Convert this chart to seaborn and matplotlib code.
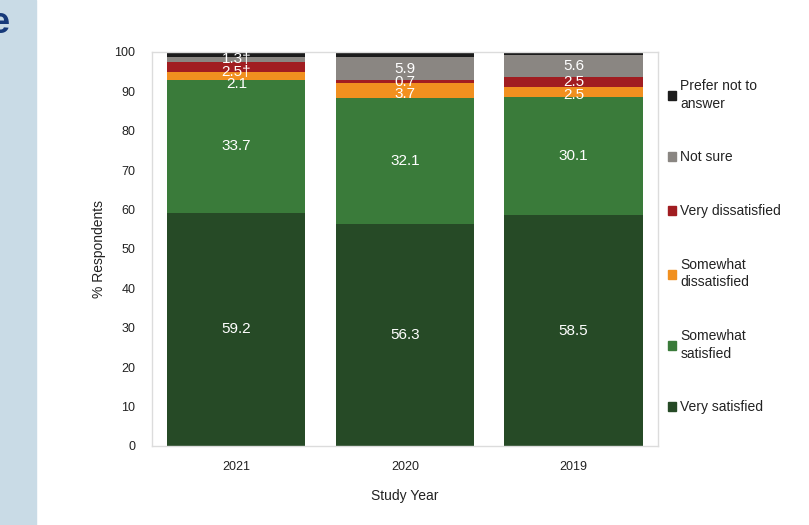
import numpy as np
import pandas as pd
import matplotlib.pyplot as plt
import matplotlib.patches as mpatches
import seaborn as sns

# Data
years = ["2021", "2020", "2019"]
categories = ["Very satisfied", "Somewhat satisfied", "Somewhat dissatisfied",
              "Very dissatisfied", "Not sure", "Prefer not to answer"]
legend_labels = ["Very satisfied", "Somewhat\nsatisfied", "Somewhat\ndissatisfied",
                 "Very dissatisfied", "Not sure", "Prefer not to\nanswer"]
very_satisfied = [59.2, 56.3, 58.5]
somewhat_satisfied = [33.7, 32.1, 30.1]
somewhat_dissatisfied = [2.1, 3.7, 2.5]
very_dissatisfied = [2.5, 0.7, 2.5]
not_sure = [1.3, 5.9, 5.6]
prefer_not = [1.2, 1.3, 0.8]
# label text shown on each segment (None = no label)
seg_labels = [
    ["59.2", "56.3", "58.5"],
    ["33.7", "32.1", "30.1"],
    ["2.1", "3.7", "2.5"],
    ["2.5\u2020", "0.7", "2.5"],
    ["1.3\u2020", "5.9", "5.6"],
    [None, None, None],
]
colors = ["#264a26", "#3a7b3a", "#f1901f", "#a11d21", "#8a8682", "#1c1c1c"]

values = np.array([very_satisfied, somewhat_satisfied, somewhat_dissatisfied,
                   very_dissatisfied, not_sure, prefer_not])
cum = np.cumsum(values, axis=0)
df = pd.DataFrame({"year": years})
for i, c in enumerate(categories):
    df[c] = cum[i]

sns.set_style("white")
plt.rcParams["font.family"] = ["Liberation Sans", "DejaVu Sans"]

fig = plt.figure(figsize=(8.09, 5.25), dpi=100)
ax = fig.add_axes([0.188, 0.1505, 0.625, 0.7505])

# draw cumulative bars from the top layer down so they stack visually
for i in reversed(range(len(categories))):
    sns.barplot(data=df, x="year", y=categories[i], color=colors[i],
                width=0.82, saturation=1, ax=ax, linewidth=0)

# segment labels, nudged downward when small segments would collide
gap = 3.2
for j in range(len(years)):
    prev = None
    for i in reversed(range(len(categories))):
        lab = seg_labels[i][j]
        if lab is None:
            continue
        pos = cum[i][j] - values[i][j] / 2
        if prev is not None:
            pos = min(pos, prev - gap)
        prev = pos
        ax.text(j, pos, lab, ha="center", va="center", color="white", fontsize=11)

ax.set_ylim(0, 100)
ax.set_xlim(-0.5, 2.5)
ax.set_yticks(range(0, 101, 10))
ax.tick_params(axis="both", length=0, labelsize=9, colors="#222222")
ax.tick_params(axis="y", pad=12)
ax.tick_params(axis="x", pad=11)
ax.set_ylabel("% Respondents", fontsize=10, color="#222222", labelpad=6)
ax.set_xlabel("Study Year", fontsize=10, color="#222222", labelpad=11)
for s in ax.spines.values():
    s.set_color("#dcdcdc")
    s.set_linewidth(1)

# legend (top to bottom: reverse of stacking)
handles = [mpatches.Patch(color=colors[i], label=legend_labels[i])
           for i in reversed(range(len(categories)))]
leg = fig.legend(handles=handles, loc="center left", bbox_to_anchor=(0.81, 0.53),
                 frameon=False, fontsize=10, handlelength=0.6, handleheight=0.6,
                 handletextpad=0.3, labelspacing=2.85)
for t in leg.get_texts():
    t.set_linespacing(1.35)
    t.set_color("#222222")

# light blue strip of the slide on the left edge
fig.patches.append(mpatches.Rectangle((0, 0), 0.045, 1, transform=fig.transFigure,
                                      color="#c9dbe6", zorder=-1))
fig.text(0.0, 0.955, "e", color="#173a7a", fontsize=26, fontweight="bold",
         ha="center", va="center")

fig.savefig("out.png", dpi=100)
